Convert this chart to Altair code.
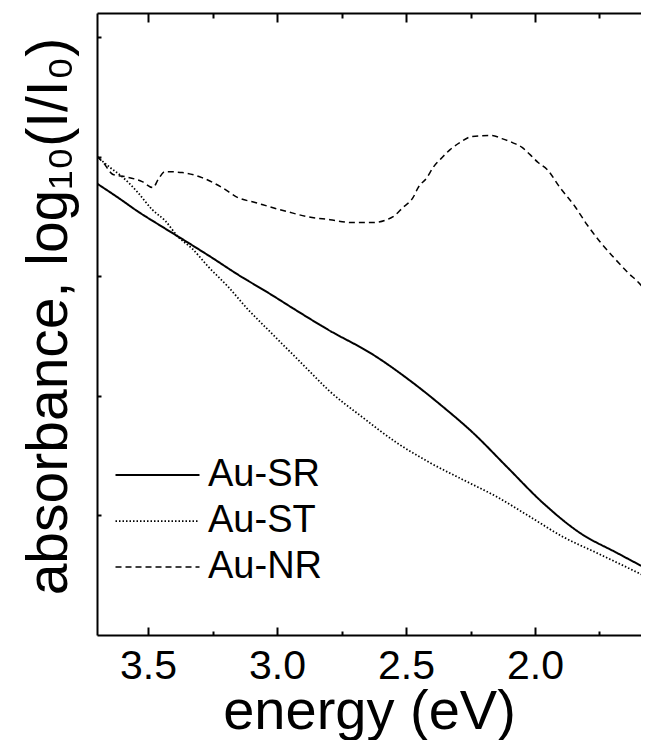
import altair as alt
import pandas as pd

# ---- data (energy in eV, absorbance in arbitrary units) ----
series_names = ["Au-SR", "Au-ST", "Au-NR"]

sr_energy = [3.698, 3.616, 3.539, 3.446, 3.345, 3.252, 3.151, 3.035, 2.930, 2.802,
             2.628, 2.473, 2.357, 2.240, 2.109, 1.969, 1.826, 1.682, 1.558]
sr_abs = [1.887, 1.828, 1.770, 1.707, 1.640, 1.577, 1.506, 1.431, 1.360, 1.276,
          1.172, 1.054, 0.954, 0.845, 0.703, 0.552, 0.427, 0.343, 0.272]

st_energy = [3.698, 3.647, 3.601, 3.539, 3.484, 3.434, 3.384, 3.329, 3.267, 3.190,
             3.112, 3.035, 2.957, 2.880, 2.802, 2.671, 2.535, 2.407, 2.279, 2.147,
             2.019, 1.891, 1.760, 1.558]
st_abs = [2.000, 1.954, 1.916, 1.849, 1.778, 1.732, 1.665, 1.615, 1.540, 1.456,
          1.360, 1.276, 1.192, 1.109, 1.025, 0.912, 0.803, 0.720, 0.649, 0.577,
          0.494, 0.410, 0.343, 0.238]

nr_energy = [3.698, 3.674, 3.636, 3.589, 3.523, 3.481, 3.461, 3.434, 3.368, 3.291,
             3.213, 3.151, 3.085, 3.019, 2.961, 2.884, 2.795, 2.709, 2.628, 2.550,
             2.512, 2.473, 2.453, 2.419, 2.395, 2.360, 2.329, 2.291, 2.244, 2.167,
             2.128, 2.089, 2.050, 2.019, 1.988, 1.953, 1.903, 1.845, 1.798, 1.748,
             1.698, 1.640, 1.585, 1.558]
nr_abs = [2.000, 1.975, 1.925, 1.916, 1.895, 1.870, 1.904, 1.937, 1.933, 1.912,
          1.870, 1.828, 1.808, 1.787, 1.770, 1.749, 1.736, 1.724, 1.724, 1.749,
          1.787, 1.828, 1.870, 1.912, 1.954, 1.996, 2.029, 2.059, 2.084, 2.088,
          2.075, 2.059, 2.038, 2.008, 1.975, 1.946, 1.870, 1.791, 1.715, 1.644,
          1.582, 1.515, 1.456, 1.410]

x_major_ticks = [3.5, 3.0, 2.5, 2.0]
x_minor_ticks = [3.25, 2.75, 2.25, 1.75]
y_ticks = [0.5, 1.0, 1.5, 2.0, 2.5]
x_domain = [1.589, 3.698]
y_domain = [0.0, 2.6]

rows = []
for name, es, vs in zip(series_names, [sr_energy, st_energy, nr_energy],
                        [sr_abs, st_abs, nr_abs]):
    for e, v in zip(es, vs):
        rows.append({"series": name, "energy": e, "absorbance": v})
df = pd.DataFrame(rows)

FONT = "Liberation Sans"
xscale = alt.Scale(domain=x_domain, reverse=True, nice=False, zero=False)
yscale = alt.Scale(domain=y_domain, nice=False, zero=False)

base = alt.Chart(df)

lines = base.mark_line(clip=True, color="black", interpolate="monotone").encode(
    x=alt.X("energy:Q", scale=xscale,
            axis=alt.Axis(orient="bottom", values=x_major_ticks, format=".1f",
                          ticks=False, tickSize=0, grid=False,
                          domain=True, domainColor="black", domainWidth=2,
                          labelFont=FONT, labelFontSize=41, labelColor="black",
                          labelPadding=11, labelFlush=False, labelOverlap=False,
                          title="energy (eV)", titleFont=FONT, titleFontSize=56,
                          titleFontWeight="normal", titleColor="black",
                          titleBaseline="alphabetic", titleY=93)),
    y=alt.Y("absorbance:Q", scale=yscale,
            axis=alt.Axis(orient="left", labels=False, ticks=False, tickSize=0,
                          grid=False, domain=True, domainColor="black", domainWidth=2,
                          title="absorbance, log₁₀(I/I₀)", titleFont=FONT,
                          titleFontSize=57, titleFontWeight="normal",
                          titleColor="black", titlePadding=19, titleY=303)),
    strokeDash=alt.StrokeDash(
        "series:N",
        scale=alt.Scale(domain=series_names, range=[[1, 0], [1.5, 2], [6, 4]]),
        legend=alt.Legend(orient="none", legendX=10, legendY=443, title=None,
                          symbolType="M-1,0H7", symbolSize=441,
                          symbolStrokeColor="black", symbolStrokeWidth=1.8,
                          labelFont=FONT, labelFontSize=38, labelColor="black",
                          labelOffset=63, rowPadding=8, padding=0)),
    strokeWidth=alt.StrokeWidth(
        "series:N",
        scale=alt.Scale(domain=series_names, range=[2.0, 1.5, 1.3]),
        legend=None),
    order=alt.Order("energy:Q", sort="descending"),
)


def tick_layer(xaxis, yaxis):
    return base.mark_point(opacity=0, clip=True).encode(
        x=alt.X("energy:Q", scale=xscale, axis=xaxis),
        y=alt.Y("absorbance:Q", scale=yscale, axis=yaxis),
    )


def xtick_axis(orient, values, size):
    return alt.Axis(orient=orient, values=values, offset=-size, tickSize=size,
                    tickWidth=2, tickColor="black", labels=False, domain=False,
                    grid=False, title="")


bottom_major = tick_layer(xtick_axis("bottom", x_major_ticks, 8), None)
bottom_minor = tick_layer(xtick_axis("bottom", x_minor_ticks, 4), None)
top_major = tick_layer(xtick_axis("top", x_major_ticks, 9), None)
top_minor = tick_layer(xtick_axis("top", x_minor_ticks, 5), None)
top_frame = tick_layer(
    alt.Axis(orient="top", ticks=False, tickSize=0, labels=False, domain=True,
             domainColor="black", domainWidth=2, grid=False, title=""), None)
left_ticks = tick_layer(
    None,
    alt.Axis(orient="left", values=y_ticks, offset=-4, tickSize=4, tickWidth=2,
             tickColor="black", labels=False, domain=False, grid=False, title=""))

chart = alt.layer(
    lines, bottom_major, bottom_minor, top_frame, top_major, top_minor, left_ticks
).resolve_axis(x="independent", y="independent").properties(
    width=544, height=622,
    padding={"left": 89, "top": 5, "right": 0, "bottom": 105},
    autosize=alt.AutoSizeParams(type="none"),
    background="white",
).configure_view(stroke="transparent")

chart.save("out.html", embed_options={"renderer": "svg", "actions": False})
